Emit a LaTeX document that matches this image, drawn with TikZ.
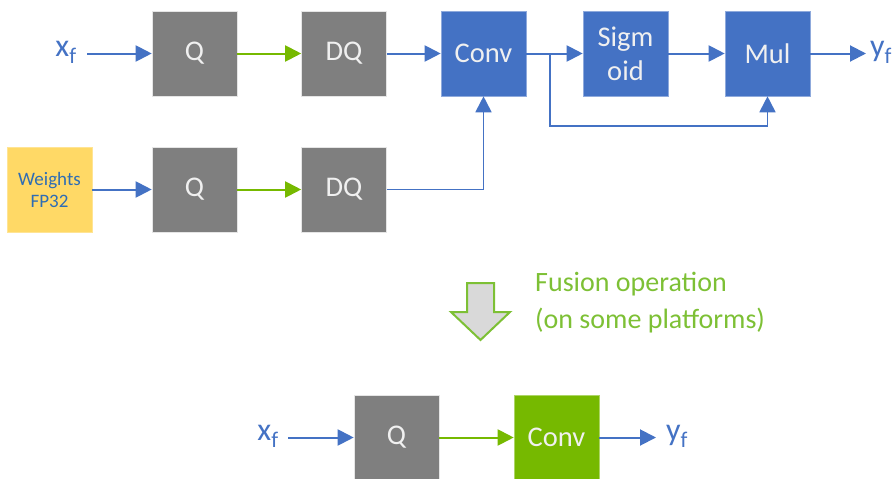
\documentclass[tikz,border=0pt]{standalone}
\usepackage{fontspec}
\setmainfont{Carlito}
\usetikzlibrary{arrows.meta}
\definecolor{boxgray}{HTML}{7F7F7F}
\definecolor{boxblue}{HTML}{4472C4}
\definecolor{boxgreen}{HTML}{76B900}
\definecolor{boxyellow}{HTML}{FFD966}
\definecolor{lineblue}{HTML}{4472C4}
\definecolor{linegreen}{HTML}{76B900}
\definecolor{textgreen}{HTML}{7DC035}
\definecolor{wtext}{HTML}{2E6DB4}
\definecolor{arrowfill}{HTML}{D9D9D9}
\begin{document}
\begin{tikzpicture}[x=1pt,y=-1pt,
  blk/.style={minimum width=85pt,minimum height=85pt,inner sep=0pt,
    text=white!94!black,font=\fontsize{28.5}{34}\selectfont,
    draw=white!80!gray,line width=0.6pt,align=center},
  graybox/.style={blk,fill=boxgray},
  bluebox/.style={blk,fill=boxblue,draw=boxblue!60!white},
  greenbox/.style={blk,fill=boxgreen,draw=boxgreen!60!white},
  yellowbox/.style={blk,fill=boxyellow,draw=boxyellow!70!white,
    text=wtext,font=\fontsize{19}{22}\selectfont},
  lbl/.style={text=lineblue,font=\fontsize{32}{33}\selectfont,inner sep=0pt},
  bline/.style={draw=lineblue,line width=2pt},
  barrow/.style={bline,-{Triangle[length=16pt,width=16pt]}},
  garrow/.style={draw=linegreen,line width=2pt,-{Triangle[length=16pt,width=16pt]}},
]
\useasboundingbox (0,0) rectangle (895,479);

% top row
\node[lbl] (xa) at (66,52) {x\textsubscript{f}};
\coordinate (xas) at (87,53.5);
\node[graybox] (q1) at (194.5,53.5) {Q};
\node[graybox] (dq1) at (344,53.5) {DQ};
\node[bluebox] (conv) at (483.5,53.5) {Conv};
\node[bluebox] (sig) at (625.5,53.5) {Sigm\\oid};
\node[bluebox] (mul) at (767.5,53.5) {Mul};
\node[lbl] (ya) at (881,52) {y\textsubscript{f}};
\coordinate (yae) at (866,53.5);

% second row
\node[yellowbox] (w) at (49.5,189.5) {Weights\\FP32};
\node[graybox] (q2) at (194.5,189.5) {Q};
\node[graybox] (dq2) at (344,189.5) {DQ};

\coordinate (br) at (550,53.5);
\coordinate (brd) at (550,126);
\coordinate (mulb) at (767.5,126);
\coordinate (convb) at (483.5,189.5);

\draw[barrow] (xas) -- (q1);
\draw[garrow] (q1) -- (dq1);
\draw[barrow] (dq1) -- (conv);
\draw[barrow] (conv) -- (sig);
\draw[barrow] (sig) -- (mul);
\draw[barrow] (mul) -- (yae);
\draw[bline,line width=1.8pt,-{Triangle[length=16pt,width=16pt]}] (br) -- (brd) -- (mulb) -- (mul.south);
\draw[barrow] (w) -- (q2);
\draw[garrow] (q2) -- (dq2);
\draw[bline,line width=1.8pt,-{Triangle[length=16pt,width=16pt]}] (dq2.east) -- (convb) -- (conv.south);

% fusion arrow
\draw[draw=textgreen,fill=arrowfill,line width=2pt,line join=miter]
  (467,283) -- (494,283) -- (494,312) -- (510,312) -- (480.5,340) -- (451,312) -- (467,312) -- cycle;
\node[anchor=west,text=textgreen,align=left,inner sep=0pt,
  font=\fontsize{28}{37}\selectfont] (fus) at (535,303) {Fusion operation\\(on some platforms)};

% bottom row
\node[lbl] (xb) at (268,436) {x\textsubscript{f}};
\coordinate (xbs) at (288,437.5);
\node[graybox] (q3) at (396.5,437.5) {Q};
\node[greenbox] (conv3) at (556.5,437.5) {Conv};
\node[lbl] (yb) at (677,436) {y\textsubscript{f}};
\coordinate (ybe) at (656,437.5);

\draw[barrow] (xbs) -- (q3);
\draw[garrow] (q3) -- (conv3);
\draw[barrow] (conv3) -- (ybe);
\end{tikzpicture}
\end{document}
